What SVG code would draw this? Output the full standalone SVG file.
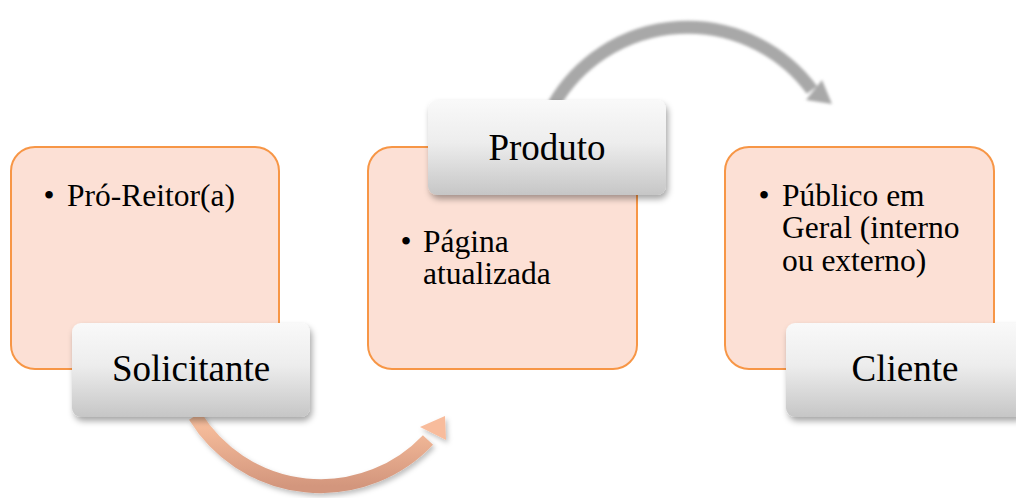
<svg xmlns="http://www.w3.org/2000/svg" width="1016" height="498" viewBox="0 0 1016 498">
  <defs>
    <style>
      .box { fill: #FCE0D5; stroke: #F79646; stroke-width: 2; }
      .tag { fill: url(#tagFill); filter: url(#tagShadow); }
      .tagText { font-family: "Liberation Serif", "Times New Roman", serif; font-size: 37px; fill: #000; text-anchor: middle; }
      .item { font-family: "Liberation Serif", "Times New Roman", serif; font-size: 31.5px; fill: #000; }
      .dot { font-family: "Liberation Serif", "Times New Roman", serif; font-size: 31.5px; fill: #000; text-anchor: middle; }
    </style>
    <linearGradient id="tagFill" x1="0" y1="0" x2="0" y2="1">
      <stop offset="0" stop-color="#F9F9F9"/>
      <stop offset="0.45" stop-color="#EDEDED"/>
      <stop offset="1" stop-color="#C6C6C6"/>
    </linearGradient>
    <linearGradient id="peachArc" x1="0" y1="0" x2="0" y2="1">
      <stop offset="0" stop-color="#FBC2A0"/>
      <stop offset="1" stop-color="#D3967D"/>
    </linearGradient>
    <filter id="tagShadow" x="-10%" y="-20%" width="125%" height="150%">
      <feDropShadow dx="2" dy="4" stdDeviation="3" flood-color="#000" flood-opacity="0.35"/>
    </filter>
    <filter id="arcShadow" x="-10%" y="-20%" width="125%" height="150%">
      <feDropShadow dx="2" dy="3" stdDeviation="2.5" flood-color="#000" flood-opacity="0.25"/>
    </filter>
    <filter id="soft" x="-10%" y="-20%" width="125%" height="150%">
      <feGaussianBlur stdDeviation="1.6"/>
    </filter>
  </defs>

  <!-- curved connectors -->
  <g id="connectors">
    <g id="arc-solicitante-produto" filter="url(#arcShadow)">
      <path d="M 195 416 A 147.7 147.7 0 0 0 428 440" fill="none" stroke="url(#peachArc)" stroke-width="14"/>
      <polygon points="420,427 445,416 446,440" fill="#F8BC9C"/>
    </g>
    <g id="arc-produto-cliente" filter="url(#soft)">
      <path d="M 554 104 A 154.7 154.7 0 0 1 812 90" fill="none" stroke="#A8A8A8" stroke-width="13"/>
      <polygon points="822,80 832,104 806,100" fill="#A8A8A8"/>
    </g>
  </g>

  <!-- Solicitante -->
  <g id="node-solicitante">
    <rect class="box" x="11" y="147" width="268" height="222" rx="24"/>
    <text class="dot" x="49" y="206">•</text>
    <text class="item" x="67" y="206">Pró-Reitor(a)</text>
    <rect class="tag" x="72" y="323" width="238" height="94" rx="9"/>
    <text class="tagText" x="191" y="381">Solicitante</text>
  </g>

  <!-- Produto -->
  <g id="node-produto">
    <rect class="box" x="368" y="147" width="269" height="222" rx="24"/>
    <text class="dot" x="406" y="252">•</text>
    <text class="item" x="423" y="252">Página</text>
    <text class="item" x="423" y="284">atualizada</text>
    <rect class="tag" x="428" y="100" width="238" height="95" rx="9"/>
    <text class="tagText" x="547" y="160">Produto</text>
  </g>

  <!-- Cliente -->
  <g id="node-cliente">
    <rect class="box" x="725" y="147" width="269" height="222" rx="24"/>
    <text class="dot" x="764" y="206">•</text>
    <text class="item" x="782" y="206">Público em</text>
    <text class="item" x="782" y="238">Geral (interno</text>
    <text class="item" x="782" y="271">ou externo)</text>
    <rect class="tag" x="786" y="323" width="238" height="94" rx="9"/>
    <text class="tagText" x="905" y="381">Cliente</text>
  </g>
</svg>
